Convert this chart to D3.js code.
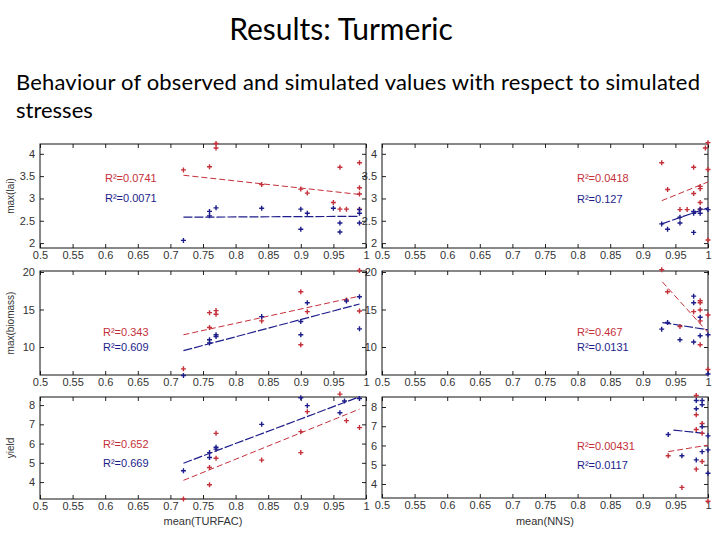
<!DOCTYPE html>
<html>
<head>
<meta charset="utf-8">
<script src="https://cdn.jsdelivr.net/npm/d3@7"></script>
<style>
  body { margin: 0; background: #fff; }
  text { font-family: "Liberation Sans", Arial, sans-serif; }
  .slide { font-family: Lato, "Open Sans", sans-serif; }
</style>
</head>
<body>
<script>
// tick values
var xTicks = [0.5, 0.55, 0.6, 0.65, 0.7, 0.75, 0.8, 0.85, 0.9, 0.95, 1];
var laiTicks = [2, 2.5, 3, 3.5, 4];
var biomassTicks = [10, 15, 20];
var yieldTicks = [4, 5, 6, 7, 8];

// max(lai) vs mean(TURFAC)
var laiTurfacObs = [[0.72,3.64],[0.76,3.71],[0.77,4.23],[0.77,4.13],[0.84,3.31],[0.90,3.21],[0.91,3.12],[0.95,2.91],[0.96,3.70],[0.96,2.76],[0.97,2.76],[0.99,3.80],[0.99,3.24],[0.99,3.10],[0.99,2.76]];
var laiTurfacSim = [[0.72,2.06],[0.76,2.71],[0.76,2.61],[0.77,2.79],[0.84,2.78],[0.90,2.76],[0.90,2.31],[0.91,2.67],[0.95,2.78],[0.96,2.45],[0.96,2.25],[0.99,2.67],[0.99,2.45],[0.99,2.75]];
var laiTurfacFitObs = [[0.72,3.52],[0.99,3.09]];
var laiTurfacFitSim = [[0.72,2.58],[0.99,2.60]];

// max(lai) vs mean(NNS)
var laiNnsObs = [[0.929,3.80],[0.938,3.20],[0.978,3.70],[0.978,3.11],[0.988,3.27],[0.988,3.22],[0.988,2.91],[0.988,2.76],[0.957,2.75],[0.968,2.75],[1.0,4.25],[1.0,3.65],[1.0,2.07],[0.996,4.13]];
var laiNnsSim = [[0.929,2.43],[0.938,2.31],[0.957,2.58],[0.957,2.45],[0.978,2.71],[0.978,2.67],[0.978,2.24],[0.988,2.76],[0.988,2.67],[1.0,2.75]];
var laiNnsFitObs = [[0.929,2.95],[1.0,3.37]];
var laiNnsFitSim = [[0.929,2.43],[1.0,2.79]];

// max(biomass) vs mean(TURFAC)
var bioTurfacObs = [[0.72,7.09],[0.76,14.58],[0.76,12.60],[0.77,14.85],[0.77,14.36],[0.84,13.48],[0.90,17.36],[0.90,10.31],[0.91,14.71],[0.97,16.26],[0.99,20.2],[0.99,14.80]];
var bioTurfacSim = [[0.72,6.21],[0.76,10.97],[0.76,10.53],[0.77,11.63],[0.77,11.41],[0.84,14.05],[0.90,13.39],[0.90,11.63],[0.91,15.90],[0.97,16.12],[0.99,16.70],[0.99,12.42]];
var bioTurfacFitObs = [[0.72,11.63],[0.99,16.78]];
var bioTurfacFitSim = [[0.72,9.52],[0.99,15.73]];

// max(biomass) vs mean(NNS)
var bioNnsObs = [[0.929,20.3],[0.938,17.36],[0.957,12.73],[0.978,14.71],[0.988,16.17],[0.988,15.90],[0.988,14.93],[0.988,13.48],[0.988,10.31],[1.0,14.27],[1.0,7.0]];
var bioNnsSim = [[0.929,12.38],[0.938,13.26],[0.957,10.97],[0.978,16.78],[0.978,15.90],[0.978,10.66],[0.988,13.96],[0.988,11.50],[1.0,11.63],[1.0,6.4]];
var bioNnsFitObs = [[0.93,18.68],[1.0,11.94]];
var bioNnsFitSim = [[0.93,13.26],[1.0,12.29]];

// yield vs mean(TURFAC)
var yieldTurfacObs = [[0.72,3.12],[0.76,4.76],[0.76,3.86],[0.77,6.53],[0.77,5.24],[0.84,5.14],[0.90,6.62],[0.90,5.53],[0.91,7.66],[0.96,8.57],[0.97,7.19],[0.99,6.83]];
var yieldTurfacSim = [[0.72,4.59],[0.76,5.53],[0.76,5.28],[0.77,5.81],[0.77,5.71],[0.84,7.0],[0.90,8.38],[0.91,7.97],[0.96,7.6],[0.967,8.21],[0.99,8.34]];
var yieldTurfacFitObs = [[0.72,4.09],[0.99,7.79]];
var yieldTurfacFitSim = [[0.72,4.98],[0.99,8.43]];

// yield vs mean(NNS)
var yieldNnsObs = [[0.939,5.47],[0.96,3.82],[0.982,8.6],[0.982,7.60],[0.982,6.83],[0.982,4.77],[0.991,7.14],[0.991,6.63],[0.991,5.17],[1.0,3.1]];
var yieldNnsSim = [[0.939,6.57],[0.96,5.47],[0.982,8.34],[0.982,7.91],[0.982,5.25],[0.991,8.34],[0.991,8.12],[0.991,6.97],[0.991,5.68],[1.0,5.77],[1.0,4.56],[1.0,6.5]];
var yieldNnsFitObs = [[0.939,5.68],[1.0,6.02]];
var yieldNnsFitSim = [[0.947,6.80],[0.995,6.63]];

var r2Labels = [
    ["R\u00b2=0.0741", "R\u00b2=0.0071"],
    ["R\u00b2=0.0418", "R\u00b2=0.127"],
    ["R\u00b2=0.343", "R\u00b2=0.609"],
    ["R\u00b2=0.467", "R\u00b2=0.0131"],
    ["R\u00b2=0.652", "R\u00b2=0.669"],
    ["R\u00b2=0.00431", "R\u00b2=0.0117"]
];

var red = "#c4303a", blue = "#1c1c8a";

var panels = [
    { box: [40, 144, 366, 248], ydom: [1.89, 4.22], ticks: laiTicks, obs: laiTurfacObs, sim: laiTurfacSim, fo: laiTurfacFitObs, fs: laiTurfacFitSim, r2: r2Labels[0], ly: [178, 198], lx: 105, ylab: "max(lai)" },
    { box: [382, 144, 708, 248], ydom: [1.89, 4.22], ticks: laiTicks, obs: laiNnsObs, sim: laiNnsSim, fo: laiNnsFitObs, fs: laiNnsFitSim, r2: r2Labels[1], ly: [178, 199], lx: 577 },
    { box: [40, 271, 366, 375], ydom: [6.27, 20.13], ticks: biomassTicks, obs: bioTurfacObs, sim: bioTurfacSim, fo: bioTurfacFitObs, fs: bioTurfacFitSim, r2: r2Labels[2], ly: [332, 347], lx: 103, ylab: "max(biomass)" },
    { box: [382, 271, 708, 375], ydom: [6.27, 20.13], ticks: biomassTicks, obs: bioNnsObs, sim: bioNnsSim, fo: bioNnsFitObs, fs: bioNnsFitSim, r2: r2Labels[3], ly: [332, 347], lx: 577 },
    { box: [40, 397, 366, 499], ydom: [3.12, 8.42], ticks: yieldTicks, obs: yieldTurfacObs, sim: yieldTurfacSim, fo: yieldTurfacFitObs, fs: yieldTurfacFitSim, r2: r2Labels[4], ly: [444, 463], lx: 103, ylab: "yield", xlab: "mean(TURFAC)" },
    { box: [382, 397, 708, 498], ydom: [3.27, 8.52], ticks: yieldTicks, obs: yieldNnsObs, sim: yieldNnsSim, fo: yieldNnsFitObs, fs: yieldNnsFitSim, r2: r2Labels[5], ly: [446, 465], lx: 577, xlab: "mean(NNS)" }
];

var svg = d3.select("body").append("svg")
    .attr("width", 720)
    .attr("height", 540);

svg.append("rect").attr("width", 720).attr("height", 540).attr("fill", "#fff");

svg.append("text")
    .attr("class", "slide")
    .attr("x", 341).attr("y", 40)
    .attr("text-anchor", "middle")
    .style("font-size", "30px")
    .text("Results: Turmeric");

svg.append("text")
    .attr("class", "slide")
    .attr("x", 16).attr("y", 90)
    .attr("textLength", 684)
    .style("font-size", "22px")
    .text("Behaviour of observed and simulated values with respect to simulated");

svg.append("text")
    .attr("class", "slide")
    .attr("x", 16).attr("y", 118)
    .style("font-size", "22px")
    .text("stresses");

var fmt = function (d) { return String(d); };

panels.forEach(function (p) {
    var x0 = p.box[0], y0 = p.box[1], x1 = p.box[2], y1 = p.box[3];
    var x = d3.scaleLinear().domain([0.5, 1]).range([x0, x1]);
    var y = d3.scaleLinear().domain(p.ydom).range([y1, y0]);
    var g = svg.append("g");

    // inside ticks on all four sides, labels on bottom and left
    var bottom = g.append("g").attr("transform", "translate(0," + y1 + ")")
        .call(d3.axisBottom(x).tickValues(xTicks).tickFormat(fmt).tickSizeInner(-4).tickSizeOuter(0).tickPadding(3));
    var top = g.append("g").attr("transform", "translate(0," + y0 + ")")
        .call(d3.axisTop(x).tickValues(xTicks).tickFormat("").tickSizeInner(-4).tickSizeOuter(0));
    var left = g.append("g").attr("transform", "translate(" + x0 + ",0)")
        .call(d3.axisLeft(y).tickValues(p.ticks).tickFormat(fmt).tickSizeInner(-4).tickSizeOuter(0).tickPadding(5));
    var right = g.append("g").attr("transform", "translate(" + x1 + ",0)")
        .call(d3.axisRight(y).tickValues(p.ticks).tickFormat("").tickSizeInner(-4).tickSizeOuter(0));

    [bottom, top, left, right].forEach(function (a) {
        a.select(".domain").remove();
        a.selectAll("line").attr("stroke", "#222");
        a.selectAll("text").attr("fill", "#333").style("font-size", "11px")
            .style("font-family", "'Liberation Sans', Arial, sans-serif");
    });

    g.append("rect")
        .attr("x", x0).attr("y", y0)
        .attr("width", x1 - x0).attr("height", y1 - y0)
        .attr("fill", "none").attr("stroke", "#111").attr("stroke-width", 1);

    var line = d3.line().x(function (d) { return x(d[0]); }).y(function (d) { return y(d[1]); });

    g.append("path").datum(p.fo).attr("d", line)
        .attr("fill", "none").attr("stroke", red).attr("stroke-width", 1)
        .attr("stroke-dasharray", "6,3");
    g.append("path").datum(p.fs).attr("d", line)
        .attr("fill", "none").attr("stroke", blue).attr("stroke-width", 1.2)
        .attr("stroke-dasharray", "9,2");

    function marks(data, color) {
        g.append("g").selectAll("path")
            .data(data)
            .enter().append("path")
            .attr("transform", function (d) { return "translate(" + x(d[0]) + "," + y(d[1]) + ")"; })
            .attr("d", "M-2.5,0H2.5M0,-2.5V2.5")
            .attr("stroke", color)
            .attr("stroke-width", 1.4)
            .attr("fill", "none");
    }
    marks(p.obs, red);
    marks(p.sim, blue);

    g.append("text").attr("x", p.lx).attr("y", p.ly[0]).attr("dy", "0.35em")
        .attr("fill", red).style("font-size", "11px").text(p.r2[0]);
    g.append("text").attr("x", p.lx).attr("y", p.ly[1]).attr("dy", "0.35em")
        .attr("fill", blue).style("font-size", "11px").text(p.r2[1]);

    if (p.ylab) {
        g.append("text")
            .attr("transform", "translate(14," + ((y0 + y1) / 2) + ") rotate(-90)")
            .attr("text-anchor", "middle")
            .attr("fill", "#333")
            .style("font-size", "10px")
            .text(p.ylab);
    }
    if (p.xlab) {
        g.append("text")
            .attr("x", (x0 + x1) / 2).attr("y", 525)
            .attr("text-anchor", "middle")
            .attr("fill", "#333")
            .style("font-size", "11px")
            .text(p.xlab);
    }
});
</script>
</body>
</html>
